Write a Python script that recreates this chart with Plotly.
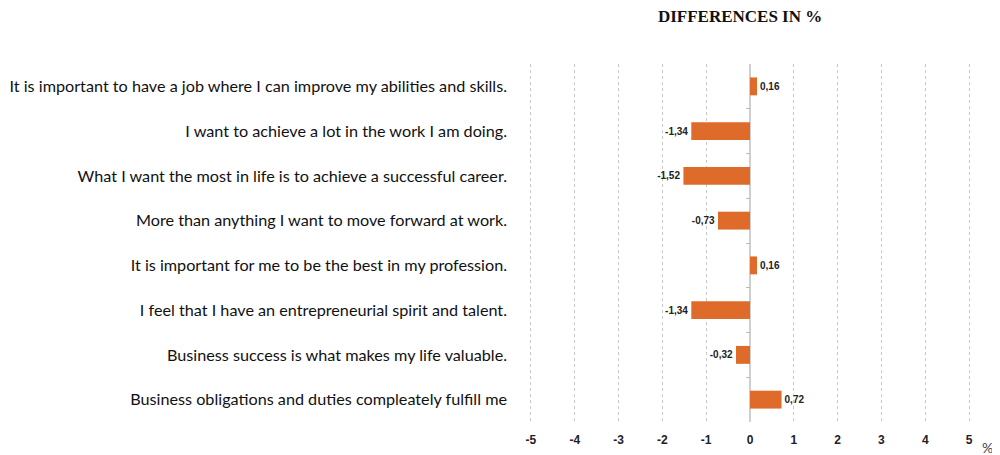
import plotly.graph_objects as go

categories = [
    "It is important to have a job where I can improve my abilities and skills.",
    "I want to achieve a lot in the work I am doing.",
    "What I want the most in life is to achieve a successful career.",
    "More than anything I want to move forward at work.",
    "It is important for me to be the best in my profession.",
    "I feel that I have an entrepreneurial spirit and talent.",
    "Business success is what makes my life valuable.",
    "Business obligations and duties compleately fulfill me",
]
values = [0.16, -1.34, -1.52, -0.73, 0.16, -1.34, -0.32, 0.72]
x_ticks = [-5, -4, -3, -2, -1, 0, 1, 2, 3, 4, 5]
labels = [f"{v:.2f}".replace(".", ",") for v in values]

bar_color = "#DF6B2A"
narrow = "Liberation Sans Narrow, Arial Narrow, sans-serif"

fig = go.Figure()
fig.add_trace(go.Bar(
    y=categories, x=values, orientation="h",
    marker=dict(color=bar_color, line=dict(width=0)),
    width=0.4,
    text=labels, textposition="outside", cliponaxis=False,
    textfont=dict(family=narrow, size=10, color="#222", weight="bold"),
    hoverinfo="x+y",
))
# empty helper trace so the zero-line tick axis is rendered
fig.add_trace(go.Scatter(x=[None], y=[None], yaxis="y2", mode="markers",
                         showlegend=False, hoverinfo="skip"))

n = len(categories)
fig.update_layout(
    width=992, height=447,
    margin=dict(l=512, r=20, t=56, b=33, autoexpand=False),
    paper_bgcolor="white", plot_bgcolor="white",
    showlegend=False,
    title=dict(text="DIFFERENCES IN %", x=0.738, xanchor="center", y=0.982, yanchor="middle",
               font=dict(family="Liberation Serif, Times New Roman, serif", size=17, color="#111", weight="bold")),
    xaxis=dict(range=[-5.25, 5.25], tickvals=x_ticks, ticktext=[str(t) for t in x_ticks],
               showgrid=True, gridcolor="#c8c8c8", griddash="dot", gridwidth=1,
               zeroline=True, zerolinecolor="#cfcfcf", zerolinewidth=2,
               showline=False, ticks="", ticklabelstandoff=9, automargin=False,
               tickfont=dict(family=narrow, size=12, color="#222", weight="bold")),
    yaxis=dict(autorange="reversed", showgrid=False, showline=False, ticks="",
               ticklabelstandoff=12, automargin=False,
               tickfont=dict(family="Lato, Open Sans, sans-serif", size=16.2, color="#111")),
    yaxis2=dict(overlaying="y", anchor="free", position=0.5, range=[n - 0.5, -0.5],
                tickvals=[i + 0.5 for i in range(n - 1)], ticks="outside", ticklen=4,
                tickcolor="#bbbbbb", showticklabels=False, showgrid=False, showline=False,
                zeroline=False, automargin=False),
    annotations=[dict(text="%", xref="paper", yref="paper", x=1.017, y=-0.072,
                      xanchor="center", yanchor="middle", showarrow=False,
                      font=dict(family="Lato, sans-serif", size=14, color="#444"))],
)
fig.write_html("out.html")
